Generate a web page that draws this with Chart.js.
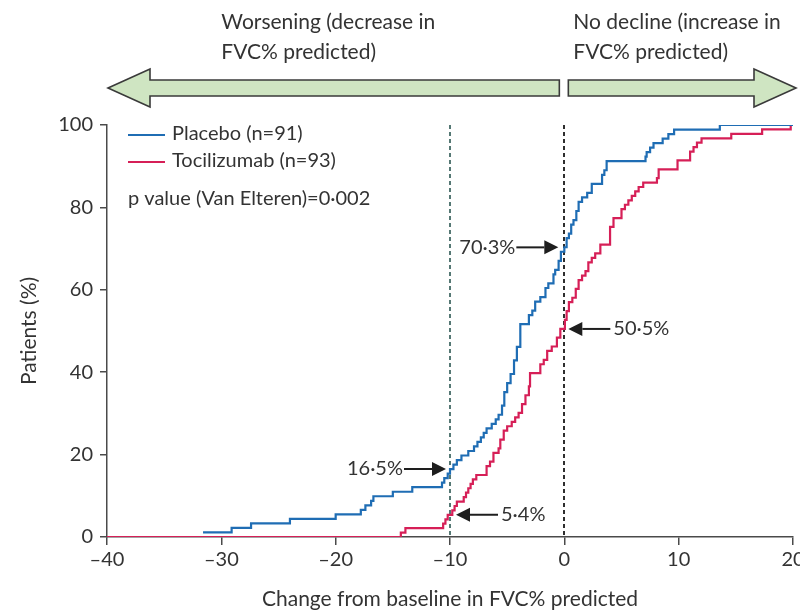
<!DOCTYPE html>
<html>
<head>
<meta charset="utf-8">
<script src="https://cdn.jsdelivr.net/npm/chart.js@4.4.1/dist/chart.umd.min.js"></script>
<style>
  html, body { margin: 0; padding: 0; background: #fff; }
  #wrap { width: 800px; height: 612px; }
</style>
</head>
<body>
<div id="wrap"><canvas id="chart" width="800" height="612"></canvas></div>
<script>
// Cumulative distribution of change from baseline in FVC% predicted

const placeboN = 91;
const tocilizumabN = 93;

// Step positions (change in FVC% predicted) and cumulative patient counts
const placeboChange = [-31.6, -29.1, -27.4, -24.0, -20.0, -17.8, -17.4, -16.9, -16.7, -15.0,
  -13.3, -10.7, -10.5, -10.2, -10.0, -9.7, -9.4, -9.0, -8.4, -7.9,
  -7.6, -7.3, -7.05, -6.8, -6.35, -6.0, -5.75, -5.45, -5.25, -5.0,
  -4.7, -4.4, -4.15, -3.85, -3.1, -2.8, -2.55, -2.1, -1.65, -1.4,
  -0.95, -0.8, -0.5, -0.3, 0, 0.2, 0.4, 0.6, 0.8, 1.05,
  1.25, 1.55, 2.0, 2.4, 3.3, 3.5, 3.7, 7.1, 7.2, 7.5,
  7.8, 8.6, 9.1, 9.6, 13.6, 20];
const placeboCount = [1, 2, 3, 4, 5, 6, 7, 8, 9, 10,
  11, 12, 13, 14, 15, 16, 17, 18, 19, 20,
  21, 22, 23, 24, 25, 26, 27, 29, 32, 34,
  36, 39, 42, 47, 49, 50, 52, 53, 55, 56,
  58, 59, 61, 63, 64, 66, 67, 69, 70, 72,
  74, 75, 76, 78, 80, 81, 83, 84, 85, 86,
  87, 88, 89, 90, 91, 91];

const tocilizumabChange = [-40, -14.3, -13.9, -10.6, -10.4, -10.2, -9.8, -9.6, -9.4, -8.8,
  -8.6, -8.4, -8.2, -8.0, -7.7, -6.8, -6.5, -6.2, -5.75, -5.6,
  -5.3, -5.0, -4.6, -4.3, -4.0, -3.7, -3.4, -3.1, -3.0, -2.1,
  -1.8, -1.5, -1.1, -0.65, -0.35, 0.05, 0.2, 0.4, 0.7, 1.0,
  1.25, 1.55, 1.85, 2.1, 2.4, 2.7, 3.15, 4.0, 4.3, 5.0,
  5.3, 5.6, 5.9, 6.2, 6.5, 6.9, 8.1, 8.25, 9.9, 11.0,
  11.3, 11.6, 12.0, 14.6, 17.3, 19.8, 20];
const tocilizumabCount = [0, 1, 2, 3, 4, 5, 6, 7, 8, 9,
  10, 11, 12, 13, 14, 16, 17, 19, 20, 22,
  24, 25, 26, 27, 28, 30, 32, 34, 37, 39,
  40, 42, 43, 45, 47, 49, 51, 53, 54, 56,
  58, 59, 60, 62, 63, 64, 66, 70, 72, 74,
  75, 76, 77, 78, 79, 80, 81, 83, 85, 87,
  88, 89, 90, 91, 92, 93, 93];

const seriesLabels = ['Placebo (n=91)', 'Tocilizumab (n=93)'];
const seriesColors = ['#1f6db4', '#d61f57'];
const pValueText = 'p value (Van Elteren)=0·002';

const xTicks = [-40, -30, -20, -10, 0, 10, 20];
const xTickLabels = ['–40', '–30', '–20', '–10', '0', '10', '20'];
const yTicks = [0, 20, 40, 60, 80, 100];
const yTickLabels = ['0', '20', '40', '60', '80', '100'];

const xTitle = 'Change from baseline in FVC% predicted';
const yTitle = 'Patients (%)';

// Reference lines and the percentages marked on them
const referenceLines = [-10, 0];
const calloutSeries = [0, 1, 0, 1];
const calloutAt = [0, 0, -10, -10];
const calloutValue = [70.3, 50.5, 16.5, 5.4];
const calloutSide = ['left', 'right', 'left', 'right'];

const bannerLeft = ['Worsening (decrease in', 'FVC% predicted)'];
const bannerRight = ['No decline (increase in', 'FVC% predicted)'];

const FONT = 'Lato, "Open Sans", sans-serif';
const TEXT = '#333333';
const AXIS = '#4a4a4a';

function toPoints(xs, counts, n) {
  return xs.map((x, i) => ({ x: x, y: counts[i] / n * 100 }));
}

function fmt(v) {
  return v.toFixed(1).replace('.', '·') + '%';
}

function arrow(ctx, tipX, y, tailX) {
  const dir = tailX < tipX ? 1 : -1;
  const headLen = 14, headHalf = 7;
  ctx.save();
  ctx.strokeStyle = '#1e1e1e';
  ctx.fillStyle = '#1e1e1e';
  ctx.lineWidth = 2;
  ctx.beginPath();
  ctx.moveTo(tailX, y);
  ctx.lineTo(tipX - dir * headLen, y);
  ctx.stroke();
  ctx.beginPath();
  ctx.moveTo(tipX, y);
  ctx.lineTo(tipX - dir * headLen, y - headHalf);
  ctx.lineTo(tipX - dir * headLen, y + headHalf);
  ctx.closePath();
  ctx.fill();
  ctx.restore();
}

function bannerArrow(ctx, x0, x1, cy, pointLeft) {
  const bodyHalf = 8, headHalf = 19, headLen = 42;
  ctx.save();
  ctx.beginPath();
  if (pointLeft) {
    ctx.moveTo(x0, cy);
    ctx.lineTo(x0 + headLen, cy - headHalf);
    ctx.lineTo(x0 + headLen, cy - bodyHalf);
    ctx.lineTo(x1, cy - bodyHalf);
    ctx.lineTo(x1, cy + bodyHalf);
    ctx.lineTo(x0 + headLen, cy + bodyHalf);
    ctx.lineTo(x0 + headLen, cy + headHalf);
  } else {
    ctx.moveTo(x1, cy);
    ctx.lineTo(x1 - headLen, cy - headHalf);
    ctx.lineTo(x1 - headLen, cy - bodyHalf);
    ctx.lineTo(x0, cy - bodyHalf);
    ctx.lineTo(x0, cy + bodyHalf);
    ctx.lineTo(x1 - headLen, cy + bodyHalf);
    ctx.lineTo(x1 - headLen, cy + headHalf);
  }
  ctx.closePath();
  ctx.fillStyle = '#cfe5c2';
  ctx.fill();
  ctx.strokeStyle = '#3a3a3a';
  ctx.lineWidth = 1.6;
  ctx.stroke();
  ctx.restore();
}

const decorations = {
  id: 'decorations',
  beforeDatasetsDraw(chart) {
    const { ctx, chartArea, scales: { x } } = chart;
    const colors = ['#557874', '#2e2e2e'];
    ctx.save();
    ctx.lineWidth = 2;
    ctx.setLineDash([4, 3]);
    referenceLines.forEach((v, i) => {
      const px = Math.round(x.getPixelForValue(v));
      ctx.strokeStyle = colors[i];
      ctx.beginPath();
      ctx.moveTo(px, chartArea.top);
      ctx.lineTo(px, chartArea.bottom);
      ctx.stroke();
    });
    ctx.restore();
  },
  afterDraw(chart) {
    const { ctx, chartArea, scales: { x, y } } = chart;
    ctx.save();
    ctx.fillStyle = TEXT;
    ctx.textBaseline = 'middle';

    // Direction banner
    const zeroPx = x.getPixelForValue(0);
    const cy = 88;
    bannerArrow(ctx, x.getPixelForValue(x.min) + 1, zeroPx - 5, cy, true);
    bannerArrow(ctx, zeroPx + 4, x.getPixelForValue(x.max) + 3, cy, false);
    ctx.font = '21px ' + FONT;
    ctx.textAlign = 'left';
    const leftTextX = x.getPixelForValue(-30);
    bannerLeft.forEach((t, i) => ctx.fillText(t, leftTextX, 22 + i * 30));
    bannerRight.forEach((t, i) => ctx.fillText(t, zeroPx + 9, 22 + i * 30));

    // Legend
    const lx = chartArea.left + 21;
    ctx.font = '20px ' + FONT;
    seriesLabels.forEach((label, i) => {
      const ly = chartArea.top + 9 + i * 27;
      ctx.strokeStyle = seriesColors[i];
      ctx.lineWidth = 2;
      ctx.beginPath();
      ctx.moveTo(lx, ly + 1);
      ctx.lineTo(lx + 37, ly + 1);
      ctx.stroke();
      ctx.fillStyle = TEXT;
      ctx.fillText(label, lx + 44, ly);
    });
    ctx.fillText(pValueText, lx, chartArea.top + 74);

    // Callouts on the reference lines
    ctx.font = '20px ' + FONT;
    calloutValue.forEach((v, i) => {
      const px = x.getPixelForValue(calloutAt[i]);
      const py = y.getPixelForValue(v);
      const text = fmt(v);
      if (calloutSide[i] === 'left') {
        const tip = px - (calloutAt[i] === 0 ? 6 : 4);
        const tail = tip - 42;
        arrow(ctx, tip, py, tail);
        ctx.textAlign = 'right';
        ctx.fillStyle = TEXT;
        ctx.fillText(text, tail - 1, py);
      } else {
        const tip = px + (calloutAt[i] === 0 ? 4 : 6);
        const tail = tip + 42;
        arrow(ctx, tip, py, tail);
        ctx.textAlign = 'left';
        ctx.fillStyle = TEXT;
        ctx.fillText(text, tail + 3, py);
      }
    });
    ctx.restore();
  }
};

const tickFont = { family: FONT, size: 20 };

new Chart(document.getElementById('chart'), {
  type: 'line',
  data: {
    datasets: [
      {
        label: seriesLabels[0],
        data: toPoints(placeboChange, placeboCount, placeboN),
        borderColor: seriesColors[0],
        borderWidth: 2.2,
        stepped: true,
        pointRadius: 0,
        fill: false
      },
      {
        label: seriesLabels[1],
        data: toPoints(tocilizumabChange, tocilizumabCount, tocilizumabN),
        borderColor: seriesColors[1],
        borderWidth: 2.2,
        stepped: true,
        pointRadius: 0,
        fill: false
      }
    ]
  },
  options: {
    responsive: false,
    animation: false,
    devicePixelRatio: 1,
    layout: { padding: { left: 0, right: 7, top: 125, bottom: 0 } },
    plugins: { legend: { display: false }, tooltip: { enabled: false } },
    scales: {
      x: {
        type: 'linear',
        min: -40,
        max: 20,
        afterBuildTicks: s => { s.ticks = xTicks.map(v => ({ value: v })); },
        afterFit: s => { s.height = 75; s.paddingLeft = 0; s.paddingRight = 0; },
        ticks: {
          font: tickFont,
          color: TEXT,
          padding: 3,
          maxRotation: 0,
          autoSkip: false,
          callback: v => xTickLabels[xTicks.indexOf(v)]
        },
        grid: { drawOnChartArea: false, drawTicks: true, tickLength: 8, color: AXIS, lineWidth: 1.5 },
        border: { display: true, color: AXIS, width: 1.5 },
        title: { display: true, text: xTitle, font: { family: FONT, size: 21 }, color: TEXT, padding: { top: 0, bottom: 0 } }
      },
      y: {
        min: 0,
        max: 100,
        afterBuildTicks: s => { s.ticks = yTicks.map(v => ({ value: v })); },
        afterFit: s => { s.width = 107; s.paddingTop = 0; s.paddingBottom = 0; },
        ticks: {
          font: tickFont,
          color: TEXT,
          padding: 7,
          autoSkip: false,
          callback: v => yTickLabels[yTicks.indexOf(v)]
        },
        grid: { drawOnChartArea: false, drawTicks: true, tickLength: 7, color: AXIS, lineWidth: 1.5 },
        border: { display: true, color: AXIS, width: 1.5 },
        title: { display: true, text: yTitle, font: { family: FONT, size: 21 }, color: TEXT, padding: { top: 17, bottom: 0 } }
      }
    }
  },
  plugins: [decorations]
});
</script>
</body>
</html>
